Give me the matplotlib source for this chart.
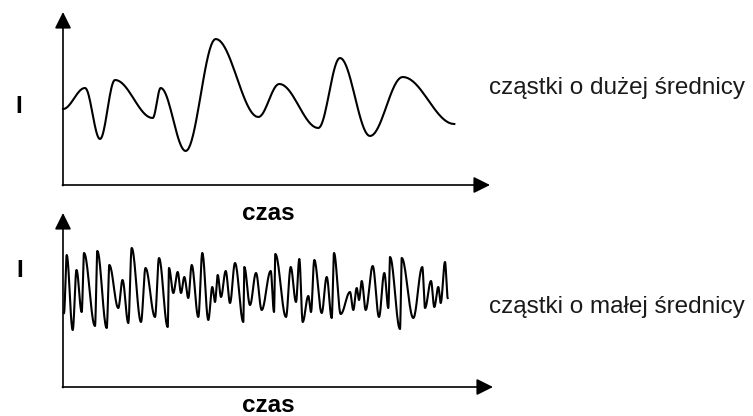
import numpy as np
import matplotlib.pyplot as plt

plt.rcParams['font.family'] = ['Liberation Sans', 'DejaVu Sans']

# peaks and troughs of the signal for large particles (time, intensity), in picture units
big_t = [63, 85, 100, 115, 152.7, 160.7, 185.7, 215.7, 258.3, 279.3, 318.3, 340, 370, 402.7, 454.3]
big_i = [109, 88, 139, 80, 118, 88, 151, 39, 117, 84, 128, 58, 136, 77, 124]

# peaks and troughs of the signal for small particles
small_t = [64, 66.7, 72.7, 76.5, 81.7, 84, 95, 97.3, 106.7, 109.3,
           118.3, 122.5, 128.3, 131.7, 141, 145.5, 155, 159, 167.7, 169,
           173.3, 177.7, 181, 184.3, 188.3, 191.7, 198.3, 202.3, 208.3, 212.3,
           215, 217.7, 221, 225.7, 230, 235, 243.3, 244.3, 250, 256,
           261.7, 270.7, 274, 275.3, 286, 290.7, 296, 299.3, 302.7, 308.3,
           311, 314.3, 321.7, 326.7, 331.7, 334, 340.7, 350, 353.3, 356.7,
           359, 361.7, 365.7, 372.7, 379, 384.3, 388.3, 390, 400, 401.7,
           413.3, 422.3, 425, 431, 434.3, 438.3, 440.7, 445, 447.7]
small_i = [313, 255, 330, 270, 312, 253, 326, 251, 328, 265,
           308, 280, 323, 248, 322, 268, 317, 258, 327, 268,
           293, 272, 293, 277, 298, 265, 317, 253, 320, 287,
           302, 275, 297, 271, 303, 263, 322, 267, 305, 273,
           310, 271, 312, 254, 317, 267, 302, 259, 322, 296,
           312, 260, 313, 277, 318, 253, 314, 292, 310, 288,
           300, 281, 310, 266, 317, 273, 308, 257, 329, 258,
           318, 267, 308, 281, 307, 287, 303, 262, 298]

y_label = 'I'
x_label = 'czas'
labels = ['cząstki o dużej średnicy', 'cząstki o małej średnicy']


# smooth curve through the extrema (cosine easing between neighbours)
def smooth(t, v, n=20):
    xs, ys = [], []
    for k in range(len(t) - 1):
        s = np.linspace(0, 1, n, endpoint=False)
        w = (1 - np.cos(np.pi * s)) / 2
        xs.append(t[k] + (t[k + 1] - t[k]) * s)
        ys.append(v[k] + (v[k + 1] - v[k]) * w)
    xs.append([t[-1]])
    ys.append([v[-1]])
    return np.concatenate(xs), np.concatenate(ys)


fig = plt.figure(figsize=(7.53, 4.16), dpi=100)
ax = fig.add_axes([0, 0, 1, 1])
ax.set_xlim(0, 753)
ax.set_ylim(416, 0)
ax.axis('off')

arrow = dict(arrowstyle='-|>,head_length=1.0,head_width=0.5', mutation_scale=10,
             color='black', lw=1.2, shrinkA=0, shrinkB=0)

# panel axes: (origin x, origin y, top of y arrow, end of x arrow)
panels = [(63, 185, 12, 490), (63, 387, 213, 493)]
for ox, oy, ytop, xend in panels:
    ax.annotate('', xy=(ox, ytop), xytext=(ox, oy + 0.6), arrowprops=arrow)
    ax.annotate('', xy=(xend, oy), xytext=(ox - 0.6, oy), arrowprops=arrow)

bx, by = smooth(big_t, big_i)
ax.plot(bx, by, color='black', lw=1.5, solid_joinstyle='round')
sx, sy = smooth(small_t, small_i)
ax.plot(sx, sy, color='black', lw=1.5, solid_joinstyle='round')

fs = 17.5
ax.text(19, 113, y_label, fontsize=fs, fontweight='bold', ha='center', va='baseline')
ax.text(20, 277, y_label, fontsize=fs, fontweight='bold', ha='center', va='baseline')
ax.text(268, 220, x_label, fontsize=fs, fontweight='bold', ha='center', va='baseline')
ax.text(268, 412, x_label, fontsize=fs, fontweight='bold', ha='center', va='baseline')
ax.text(489, 94, labels[0], fontsize=fs, color='#1a1a1a', ha='left', va='baseline')
ax.text(489, 313, labels[1], fontsize=fs, color='#1a1a1a', ha='left', va='baseline')

fig.savefig('out.png', dpi=100)
